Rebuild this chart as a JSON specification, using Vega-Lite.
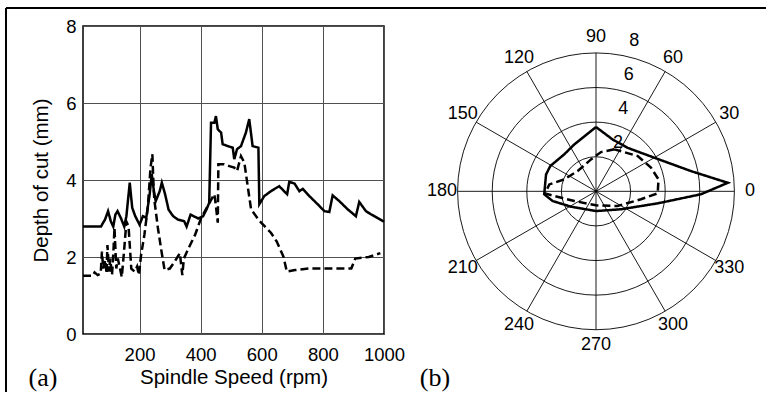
{
  "$schema": "https://vega.github.io/schema/vega-lite/v6.json",
  "autosize": {"type": "pad"},
  "padding": {"left": 4, "top": 6, "right": 0, "bottom": 0},
  "background": "white",
  "bounds": "flush",
  "spacing": 73.5,
  "config": {
    "font": "Liberation Sans",
    "view": {"stroke": null},
    "axis": {"labelColor": "black", "titleColor": "black", "titleFontWeight": "normal", "labelOverlap": false, "labelFlush": false}
  },
  "datasets": {
    "speed": [
      {"rpm": 15, "depth": 2.79, "series": "solid"}, {"rpm": 74, "depth": 2.79, "series": "solid"}, {"rpm": 80, "depth": 2.88, "series": "solid"}, {"rpm": 87, "depth": 2.97, "series": "solid"}, {"rpm": 97, "depth": 3.19, "series": "solid"}, {"rpm": 106, "depth": 2.93, "series": "solid"}, {"rpm": 114, "depth": 2.79, "series": "solid"}, {"rpm": 121, "depth": 3.1, "series": "solid"}, {"rpm": 128, "depth": 3.19, "series": "solid"}, {"rpm": 139, "depth": 3.01, "series": "solid"}, {"rpm": 150, "depth": 2.79, "series": "solid"}, {"rpm": 157, "depth": 3.06, "series": "solid"}, {"rpm": 168, "depth": 3.93, "series": "solid"}, {"rpm": 176, "depth": 3.28, "series": "solid"}, {"rpm": 186, "depth": 3.06, "series": "solid"}, {"rpm": 200, "depth": 2.84, "series": "solid"}, {"rpm": 211, "depth": 3.06, "series": "solid"}, {"rpm": 222, "depth": 3.02, "series": "solid"}, {"rpm": 233, "depth": 3.62, "series": "solid"}, {"rpm": 240, "depth": 4.15, "series": "solid"}, {"rpm": 247, "depth": 3.71, "series": "solid"}, {"rpm": 253, "depth": 3.45, "series": "solid"}, {"rpm": 266, "depth": 3.71, "series": "solid"}, {"rpm": 273, "depth": 3.93, "series": "solid"}, {"rpm": 284, "depth": 3.62, "series": "solid"}, {"rpm": 295, "depth": 3.23, "series": "solid"}, {"rpm": 310, "depth": 3.06, "series": "solid"}, {"rpm": 326, "depth": 2.97, "series": "solid"}, {"rpm": 346, "depth": 2.93, "series": "solid"}, {"rpm": 354, "depth": 2.79, "series": "solid"}, {"rpm": 367, "depth": 3.1, "series": "solid"}, {"rpm": 382, "depth": 3.04, "series": "solid"}, {"rpm": 392, "depth": 3.0, "series": "solid"}, {"rpm": 408, "depth": 3.06, "series": "solid"}, {"rpm": 420, "depth": 3.25, "series": "solid"}, {"rpm": 428, "depth": 3.41, "series": "solid"}, {"rpm": 434, "depth": 5.49, "series": "solid"}, {"rpm": 445, "depth": 5.49, "series": "solid"}, {"rpm": 450, "depth": 5.66, "series": "solid"}, {"rpm": 456, "depth": 5.32, "series": "solid"}, {"rpm": 467, "depth": 5.23, "series": "solid"}, {"rpm": 472, "depth": 4.93, "series": "solid"}, {"rpm": 489, "depth": 4.88, "series": "solid"}, {"rpm": 505, "depth": 4.84, "series": "solid"}, {"rpm": 510, "depth": 4.54, "series": "solid"}, {"rpm": 519, "depth": 4.8, "series": "solid"}, {"rpm": 532, "depth": 4.88, "series": "solid"}, {"rpm": 548, "depth": 5.23, "series": "solid"}, {"rpm": 559, "depth": 5.58, "series": "solid"}, {"rpm": 570, "depth": 4.88, "series": "solid"}, {"rpm": 589, "depth": 4.84, "series": "solid"}, {"rpm": 592, "depth": 3.37, "series": "solid"}, {"rpm": 608, "depth": 3.58, "series": "solid"}, {"rpm": 630, "depth": 3.71, "series": "solid"}, {"rpm": 657, "depth": 3.84, "series": "solid"}, {"rpm": 683, "depth": 3.63, "series": "solid"}, {"rpm": 690, "depth": 3.95, "series": "solid"}, {"rpm": 707, "depth": 3.91, "series": "solid"}, {"rpm": 723, "depth": 3.71, "series": "solid"}, {"rpm": 734, "depth": 3.77, "series": "solid"}, {"rpm": 756, "depth": 3.58, "series": "solid"}, {"rpm": 783, "depth": 3.37, "series": "solid"}, {"rpm": 805, "depth": 3.19, "series": "solid"}, {"rpm": 821, "depth": 3.17, "series": "solid"}, {"rpm": 832, "depth": 3.6, "series": "solid"}, {"rpm": 854, "depth": 3.45, "series": "solid"}, {"rpm": 881, "depth": 3.24, "series": "solid"}, {"rpm": 908, "depth": 3.06, "series": "solid"}, {"rpm": 919, "depth": 3.43, "series": "solid"}, {"rpm": 941, "depth": 3.19, "series": "solid"}, {"rpm": 957, "depth": 3.11, "series": "solid"}, {"rpm": 1000, "depth": 2.92, "series": "solid"},
      {"rpm": 15, "depth": 1.51, "series": "dashed"}, {"rpm": 47, "depth": 1.51, "series": "dashed"}, {"rpm": 53, "depth": 1.6, "series": "dashed"}, {"rpm": 63, "depth": 1.53, "series": "dashed"}, {"rpm": 73, "depth": 1.57, "series": "dashed"}, {"rpm": 77, "depth": 2.14, "series": "dashed"}, {"rpm": 81, "depth": 1.7, "series": "dashed"}, {"rpm": 88, "depth": 1.92, "series": "dashed"}, {"rpm": 92, "depth": 1.57, "series": "dashed"}, {"rpm": 95, "depth": 2.31, "series": "dashed"}, {"rpm": 100, "depth": 1.62, "series": "dashed"}, {"rpm": 104, "depth": 1.96, "series": "dashed"}, {"rpm": 110, "depth": 1.53, "series": "dashed"}, {"rpm": 115, "depth": 2.22, "series": "dashed"}, {"rpm": 118, "depth": 2.76, "series": "dashed"}, {"rpm": 124, "depth": 1.7, "series": "dashed"}, {"rpm": 129, "depth": 1.96, "series": "dashed"}, {"rpm": 136, "depth": 1.7, "series": "dashed"}, {"rpm": 142, "depth": 1.48, "series": "dashed"}, {"rpm": 150, "depth": 2.22, "series": "dashed"}, {"rpm": 157, "depth": 2.92, "series": "dashed"}, {"rpm": 164, "depth": 2.8, "series": "dashed"}, {"rpm": 173, "depth": 1.7, "series": "dashed"}, {"rpm": 184, "depth": 1.62, "series": "dashed"}, {"rpm": 192, "depth": 1.75, "series": "dashed"}, {"rpm": 198, "depth": 1.53, "series": "dashed"}, {"rpm": 205, "depth": 2.05, "series": "dashed"}, {"rpm": 216, "depth": 2.58, "series": "dashed"}, {"rpm": 227, "depth": 3.28, "series": "dashed"}, {"rpm": 236, "depth": 4.32, "series": "dashed"}, {"rpm": 242, "depth": 4.67, "series": "dashed"}, {"rpm": 246, "depth": 3.8, "series": "dashed"}, {"rpm": 249, "depth": 3.45, "series": "dashed"}, {"rpm": 260, "depth": 2.76, "series": "dashed"}, {"rpm": 272, "depth": 2.14, "series": "dashed"}, {"rpm": 282, "depth": 1.66, "series": "dashed"}, {"rpm": 299, "depth": 1.7, "series": "dashed"}, {"rpm": 315, "depth": 1.88, "series": "dashed"}, {"rpm": 332, "depth": 2.1, "series": "dashed"}, {"rpm": 340, "depth": 1.53, "series": "dashed"}, {"rpm": 345, "depth": 1.96, "series": "dashed"}, {"rpm": 360, "depth": 2.22, "series": "dashed"}, {"rpm": 382, "depth": 2.58, "series": "dashed"}, {"rpm": 401, "depth": 3.0, "series": "dashed"}, {"rpm": 423, "depth": 3.32, "series": "dashed"}, {"rpm": 441, "depth": 3.58, "series": "dashed"}, {"rpm": 445, "depth": 3.63, "series": "dashed"}, {"rpm": 450, "depth": 3.32, "series": "dashed"}, {"rpm": 456, "depth": 2.89, "series": "dashed"}, {"rpm": 458, "depth": 4.41, "series": "dashed"}, {"rpm": 477, "depth": 4.41, "series": "dashed"}, {"rpm": 494, "depth": 4.36, "series": "dashed"}, {"rpm": 510, "depth": 4.32, "series": "dashed"}, {"rpm": 519, "depth": 4.23, "series": "dashed"}, {"rpm": 532, "depth": 4.62, "series": "dashed"}, {"rpm": 543, "depth": 4.45, "series": "dashed"}, {"rpm": 554, "depth": 3.84, "series": "dashed"}, {"rpm": 565, "depth": 3.24, "series": "dashed"}, {"rpm": 592, "depth": 2.94, "series": "dashed"}, {"rpm": 630, "depth": 2.63, "series": "dashed"}, {"rpm": 649, "depth": 2.4, "series": "dashed"}, {"rpm": 671, "depth": 2.01, "series": "dashed"}, {"rpm": 682, "depth": 1.62, "series": "dashed"}, {"rpm": 709, "depth": 1.66, "series": "dashed"}, {"rpm": 753, "depth": 1.7, "series": "dashed"}, {"rpm": 818, "depth": 1.7, "series": "dashed"}, {"rpm": 893, "depth": 1.7, "series": "dashed"}, {"rpm": 906, "depth": 1.96, "series": "dashed"}, {"rpm": 950, "depth": 2.0, "series": "dashed"}, {"rpm": 988, "depth": 2.1, "series": "dashed"}
    ],
    "polar": [
      {"ord": 0, "angle": 90, "r": 3.72, "series": "solid"}, {"ord": 1, "angle": 72.3, "r": 3.15, "series": "solid"}, {"ord": 2, "angle": 54, "r": 3.11, "series": "solid"}, {"ord": 3, "angle": 30, "r": 3.89, "series": "solid"}, {"ord": 4, "angle": 12, "r": 5.62, "series": "solid"}, {"ord": 5, "angle": 3.7, "r": 7.64, "series": "solid"}, {"ord": 6, "angle": 358.4, "r": 6.07, "series": "solid"}, {"ord": 7, "angle": 349, "r": 3.64, "series": "solid"}, {"ord": 8, "angle": 324.4, "r": 1.78, "series": "solid"}, {"ord": 9, "angle": 270, "r": 1.14, "series": "solid"}, {"ord": 10, "angle": 211.5, "r": 1.7, "series": "solid"}, {"ord": 11, "angle": 192.6, "r": 2.57, "series": "solid"}, {"ord": 12, "angle": 183.3, "r": 3.0, "series": "solid"}, {"ord": 13, "angle": 161.3, "r": 3.05, "series": "solid"}, {"ord": 14, "angle": 151, "r": 3.02, "series": "solid"}, {"ord": 15, "angle": 130.5, "r": 2.82, "series": "solid"}, {"ord": 16, "angle": 114.7, "r": 2.99, "series": "solid"}, {"ord": 17, "angle": 90, "r": 3.72, "series": "solid"},
      {"ord": 0, "angle": 66.4, "r": 2.65, "series": "dashed"}, {"ord": 1, "angle": 82.7, "r": 2.29, "series": "dashed"}, {"ord": 2, "angle": 98.9, "r": 1.87, "series": "dashed"}, {"ord": 3, "angle": 132, "r": 1.58, "series": "dashed"}, {"ord": 4, "angle": 159.3, "r": 1.96, "series": "dashed"}, {"ord": 5, "angle": 171.6, "r": 2.73, "series": "dashed"}, {"ord": 6, "angle": 182.3, "r": 2.95, "series": "dashed"}, {"ord": 7, "angle": 186.4, "r": 2.43, "series": "dashed"}, {"ord": 8, "angle": 204, "r": 1.37, "series": "dashed"}, {"ord": 9, "angle": 270, "r": 0.81, "series": "dashed"}, {"ord": 10, "angle": 325.8, "r": 1.51, "series": "dashed"}, {"ord": 11, "angle": 350, "r": 2.64, "series": "dashed"}, {"ord": 12, "angle": 358.1, "r": 3.57, "series": "dashed"}, {"ord": 13, "angle": 10.8, "r": 3.68, "series": "dashed"}, {"ord": 14, "angle": 23.3, "r": 3.46, "series": "dashed"}, {"ord": 15, "angle": 40.2, "r": 3.16, "series": "dashed"}, {"ord": 16, "angle": 66.4, "r": 2.65, "series": "dashed"}
    ],
    "rings": [{"r": 2}, {"r": 4}, {"r": 6}, {"r": 8}],
    "spokes": [{"angle": 0}, {"angle": 30}, {"angle": 60}, {"angle": 90}, {"angle": 120}, {"angle": 150}, {"angle": 180}, {"angle": 210}, {"angle": 240}, {"angle": 270}, {"angle": 300}, {"angle": 330}],
    "angleLabels": [{"angle": 0, "t": "0"}, {"angle": 30, "t": "30"}, {"angle": 60, "t": "60"}, {"angle": 90, "t": "90"}, {"angle": 120, "t": "120"}, {"angle": 150, "t": "150"}, {"angle": 180, "t": "180"}, {"angle": 210, "t": "210"}, {"angle": 240, "t": "240"}, {"angle": 270, "t": "270"}, {"angle": 300, "t": "300"}, {"angle": 330, "t": "330"}],
    "radialLabels": [{"r": 2, "t": "2"}, {"r": 4, "t": "4"}, {"r": 6, "t": "6"}, {"r": 8, "t": "8"}]
  },
  "hconcat": [
    {
      "width": 301,
      "height": 308,
      "view": {"stroke": "black", "strokeWidth": 1.5},
      "layer": [
        {
          "data": {"name": "speed"},
          "mark": {"type": "line", "color": "black", "strokeWidth": 2.5},
          "encoding": {
            "x": {"field": "rpm", "type": "quantitative",
              "scale": {"domain": [15, 1000], "nice": false, "zero": false},
              "axis": {"values": [200, 400, 600, 800, 1000], "format": "d", "title": "Spindle Speed (rpm)", "grid": true, "gridColor": "#505050", "gridWidth": 1, "domain": false, "ticks": false, "tickSize": 0, "labelPadding": 11, "labelFontSize": 18.5, "titleFontSize": 20.5, "titlePadding": 4}},
            "y": {"field": "depth", "type": "quantitative",
              "scale": {"domain": [0, 8], "nice": false, "zero": false},
              "axis": {"values": [0, 2, 4, 6, 8], "format": "d", "title": "Depth of cut (mm)", "grid": true, "gridColor": "#505050", "gridWidth": 1, "domain": false, "ticks": false, "tickSize": 0, "labelPadding": 7, "labelFontSize": 18.5, "titleFontSize": 20.5, "titlePadding": 14}},
            "strokeDash": {"field": "series", "type": "nominal", "scale": {"domain": ["solid", "dashed"], "range": [[1, 0], [8, 4]]}, "legend": null}
          }
        },
        {
          "data": {"values": [{"part": "frame"}]},
          "transform": [
            {"calculate": "-237", "as": "fx"},
            {"calculate": "2250", "as": "fx2"},
            {"calculate": "8.4675", "as": "fy"},
            {"calculate": "-1.5065", "as": "fy2"}
          ],
          "layer": [
            {
              "mark": {"type": "rule", "color": "black", "strokeWidth": 2, "strokeCap": "butt"},
              "encoding": {"x": {"field": "fx", "type": "quantitative"}, "x2": {"field": "fx2"}, "y": {"field": "fy", "type": "quantitative"}}
            },
            {
              "mark": {"type": "rule", "color": "black", "strokeWidth": 2, "strokeCap": "butt"},
              "encoding": {"x": {"field": "fx", "type": "quantitative"}, "y": {"field": "fy", "type": "quantitative"}, "y2": {"field": "fy2"}}
            }
          ]
        },
        {
          "data": {"values": [{"t": "(a)"}]},
          "transform": [
            {"calculate": "-116", "as": "tx"},
            {"calculate": "-1.143", "as": "ty"}
          ],
          "mark": {"type": "text", "font": "Liberation Serif", "fontSize": 26, "align": "center", "baseline": "middle", "color": "black"},
          "encoding": {"x": {"field": "tx", "type": "quantitative"}, "y": {"field": "ty", "type": "quantitative"}, "text": {"field": "t"}}
        }
      ]
    },
    {
      "width": 277,
      "height": 308,
      "view": {"stroke": null},
      "encoding": {
        "x": {"type": "quantitative", "scale": {"domain": [-8.01, 8.01], "nice": false, "zero": false}, "axis": null},
        "y": {"type": "quantitative", "scale": {"domain": [-8.25, 9.56], "nice": false, "zero": false}, "axis": null}
      },
      "layer": [
        {
          "data": {"name": "rings"},
          "transform": [
            {"calculate": "0", "as": "cx"},
            {"calculate": "0", "as": "cy"}
          ],
          "mark": {"type": "point", "shape": "circle", "filled": false, "stroke": "black", "strokeWidth": 0.9, "opacity": 1},
          "encoding": {
            "x": {"field": "cx", "type": "quantitative"},
            "y": {"field": "cy", "type": "quantitative"},
            "size": {"field": "r", "type": "quantitative", "scale": {"type": "pow", "exponent": 2, "domain": [0, 8], "range": [0, 76618], "zero": true}, "legend": null}
          }
        },
        {
          "data": {"name": "spokes"},
          "transform": [
            {"calculate": "0", "as": "cx"},
            {"calculate": "0", "as": "cy"},
            {"calculate": "8*cos(datum.angle*PI/180)", "as": "xe"},
            {"calculate": "8*sin(datum.angle*PI/180)", "as": "ye"}
          ],
          "mark": {"type": "rule", "color": "black", "strokeWidth": 0.9},
          "encoding": {
            "x": {"field": "cx", "type": "quantitative"},
            "y": {"field": "cy", "type": "quantitative"},
            "x2": {"field": "xe"},
            "y2": {"field": "ye"}
          }
        },
        {
          "data": {"name": "polar"},
          "transform": [
            {"calculate": "datum.r*cos(datum.angle*PI/180)", "as": "px"},
            {"calculate": "datum.r*sin(datum.angle*PI/180)", "as": "py"}
          ],
          "mark": {"type": "line", "color": "black", "strokeWidth": 2.5},
          "encoding": {
            "x": {"field": "px", "type": "quantitative"},
            "y": {"field": "py", "type": "quantitative"},
            "order": {"field": "ord", "type": "quantitative"},
            "strokeDash": {"field": "series", "type": "nominal", "scale": {"domain": ["solid", "dashed"], "range": [[1, 0], [8, 4]]}, "legend": null}
          }
        },
        {
          "data": {"name": "angleLabels"},
          "transform": [
            {"calculate": "8.9*cos(datum.angle*PI/180)", "as": "lx"},
            {"calculate": "8.9*sin(datum.angle*PI/180)", "as": "ly"}
          ],
          "mark": {"type": "text", "fontSize": 18, "align": "center", "baseline": "middle", "color": "black"},
          "encoding": {
            "x": {"field": "lx", "type": "quantitative"},
            "y": {"field": "ly", "type": "quantitative"},
            "text": {"field": "t"}
          }
        },
        {
          "data": {"name": "radialLabels"},
          "transform": [
            {"calculate": "datum.r*cos(81*PI/180)", "as": "lx"},
            {"calculate": "datum.r*sin(81*PI/180)", "as": "ly"}
          ],
          "mark": {"type": "text", "fontSize": 18, "align": "center", "baseline": "middle", "color": "black", "dx": 16.5, "dy": -13.9},
          "encoding": {
            "x": {"field": "lx", "type": "quantitative"},
            "y": {"field": "ly", "type": "quantitative"},
            "text": {"field": "t"}
          }
        },
        {
          "data": {"values": [{"t": "(b)"}]},
          "transform": [
            {"calculate": "-9.31", "as": "tx"},
            {"calculate": "-10.8", "as": "ty"}
          ],
          "mark": {"type": "text", "font": "Liberation Serif", "fontSize": 26, "align": "center", "baseline": "middle", "color": "black"},
          "encoding": {"x": {"field": "tx", "type": "quantitative"}, "y": {"field": "ty", "type": "quantitative"}, "text": {"field": "t"}}
        }
      ]
    }
  ]
}
